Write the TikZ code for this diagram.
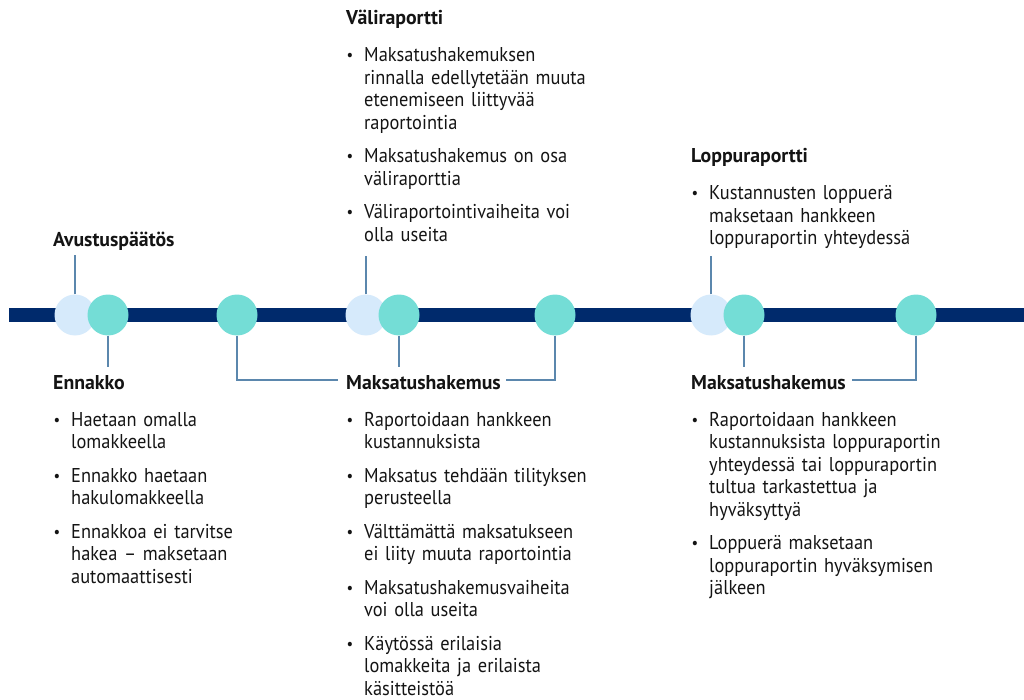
\documentclass[tikz,border=0pt]{standalone}
\usepackage{fontspec}
\setmainfont{PT Sans}[UprightFeatures={FakeStretch=0.92},BoldFeatures={FakeStretch=0.99}]
\usetikzlibrary{positioning}

\definecolor{navy}{RGB}{0,42,108}
\definecolor{lightblue}{RGB}{214,234,251}
\definecolor{teal}{RGB}{116,221,214}
\definecolor{steel}{RGB}{91,135,173}
\definecolor{ink}{RGB}{20,20,20}

% heading and bullet items inside a block
\newcommand{\head}[1]{\textbf{#1}\par\vspace{3.5pt}}
\newcommand{\itm}[1]{\par\vspace{11pt}\noindent
  \makebox[18pt][l]{\hspace{0.5pt}\raisebox{1pt}{\fontsize{16}{16}\selectfont\textbullet}}%
  \parbox[t]{270pt}{\raggedright #1\strut}\par\prevdepth=\dp\strutbox}

\begin{document}
\begin{tikzpicture}[x=1pt,y=-1pt,
    block/.style={anchor=base west,inner sep=0pt,text width=300pt,
      text=ink,font=\fontsize{20}{22.5}\selectfont},
    bar/.style={navy,line width=14pt},
    ldot/.style={circle,fill=lightblue,minimum size=41pt,inner sep=0pt},
    tdot/.style={circle,fill=teal,minimum size=41pt,inner sep=0pt},
    conn/.style={steel,line width=1.6pt}]
  \useasboundingbox (0,0) rectangle (1024,700);

  % timeline
  \coordinate (start) at (9,315);
  \coordinate (end) at (1024,315);
  \draw[bar] (start) -- (end);

  \node[ldot] at (75,315) (d1) {};
  \node[tdot] at (108,315) (d2) {};
  \node[tdot] at (237,315) (d3) {};
  \node[ldot] at (366,315) (d4) {};
  \node[tdot] at (399,315) (d5) {};
  \node[tdot] at (555,315) (d6) {};
  \node[ldot] at (711,315) (d7) {};
  \node[tdot] at (744,315) (d8) {};
  \node[tdot] at (916,315) (d9) {};

  % texts above the line
  \node[block] at (53,247) (avpaat) {\head{Avustuspäätös}};
  \node[block] at (346,25) (vali) {\head{Väliraportti}
    \itm{Maksatushakemuksen\\rinnalla edellytetään muuta\\etenemiseen liittyvää\\raportointia}
    \itm{Maksatushakemus on osa\\väliraporttia}
    \itm{Väliraportointivaiheita voi\\olla useita}};
  \node[block] at (691,163) (loppu) {\head{Loppuraportti}
    \itm{Kustannusten loppuerä\\maksetaan hankkeen\\loppuraportin yhteydessä}};

  % texts below the line
  \node[block] at (53,389) (ennakko) {\head{Ennakko}
    \itm{Haetaan omalla\\lomakkeella}
    \itm{Ennakko haetaan\\hakulomakkeella}
    \itm{Ennakkoa ei tarvitse\\hakea – maksetaan\\automaattisesti}};
  \node[block] at (346,389) (maksa) {\head{Maksatushakemus}
    \itm{Raportoidaan hankkeen\\kustannuksista}
    \itm{Maksatus tehdään tilityksen\\perusteella}
    \itm{Välttämättä maksatukseen\\ei liity muuta raportointia}
    \itm{Maksatushakemusvaiheita\\voi olla useita}
    \itm{Käytössä erilaisia\\lomakkeita ja erilaista\\käsitteistöä}};
  \node[block] at (691,389) (maksb) {\head{Maksatushakemus}
    \itm{Raportoidaan hankkeen\\kustannuksista loppuraportin\\yhteydessä tai loppuraportin\\tultua tarkastettua ja\\hyväksyttyä}
    \itm{Loppuerä maksetaan\\loppuraportin hyväksymisen\\jälkeen}};

  % connector ends
  \coordinate (t1) at (75,255);
  \coordinate (t4) at (366,256);
  \coordinate (t7) at (711,256);
  \coordinate (b2) at (108,367);
  \coordinate (b5) at (399,367);
  \coordinate (b8) at (744,367);
  \coordinate (ma) at (338,380);
  \coordinate (mb) at (506,380);
  \coordinate (mc) at (852,380);

  \draw[conn] (d1.north) -- (t1);
  \draw[conn] (d4.north) -- (t4);
  \draw[conn] (d7.north) -- (t7);
  \draw[conn] (d2.south) -- (b2);
  \draw[conn] (d5.south) -- (b5);
  \draw[conn] (d8.south) -- (b8);
  \draw[conn] (d3.south) |- (ma);
  \draw[conn] (d6.south) |- (mb);
  \draw[conn] (d9.south) |- (mc);
\end{tikzpicture}
\end{document}
